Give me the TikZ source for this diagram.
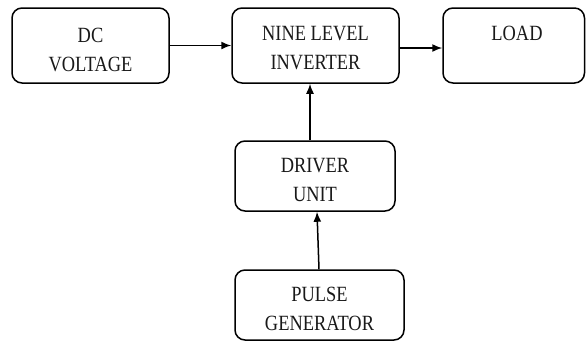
\documentclass[tikz,border=0pt]{standalone}
\usepackage{fontspec}
\setmainfont{Liberation Serif}
\usetikzlibrary{arrows.meta}
\newcommand{\boxtxt}[1]{\scalebox{1}[1.18]{\begin{tabular}{@{}c@{}}#1\end{tabular}}}
\begin{document}
\begin{tikzpicture}[x=1pt,y=-1pt,
  blk/.style={draw=black, line width=1.5pt, rounded corners=10pt, inner sep=0pt},
  txt/.style={align=center, inner sep=0pt, font=\fontsize{18.4}{24.5}\selectfont, text=black!90},
  arr/.style={line width=1.5pt, -{Latex[length=10pt,width=8pt]}}]
\useasboundingbox (0,0) rectangle (586,341);
% boxes
\node[blk, minimum width=157pt, minimum height=75pt] (dc) at (90.5,45.5) {};
\node[blk, minimum width=167pt, minimum height=75pt] (nine) at (315.5,45.5) {};
\node[blk, minimum width=141.5pt, minimum height=75pt] (load) at (513.75,45.5) {};
\node[blk, minimum width=160pt, minimum height=70pt] (driver) at (315,176) {};
\node[blk, minimum width=169pt, minimum height=70pt] (pulse) at (319.5,305) {};
% texts
\node[txt] (dct) at (90.5,51) {\boxtxt{DC\\VOLTAGE}};
\node[txt] (ninet) at (315.5,49.5) {\boxtxt{NINE LEVEL\\INVERTER}};
\node[txt] (loadt) at (517,35) {\boxtxt{LOAD}};
\node[txt] (drivert) at (315,181) {\boxtxt{DRIVER\\UNIT}};
\node[txt] (pulset) at (319.5,310) {\boxtxt{PULSE\\GENERATOR}};
% arrows
\draw[arr] (dc.east) -- (nine.west);
\draw[arr] ([yshift=-2.5pt]nine.east) -- ([yshift=-2.5pt]load.west);
\draw[arr] ([xshift=-5pt]driver.north) -- ([xshift=-5.5pt]nine.south);
\draw[arr] ([xshift=-0.5pt]pulse.north) -- ([xshift=2pt]driver.south);
\end{tikzpicture}
\end{document}
